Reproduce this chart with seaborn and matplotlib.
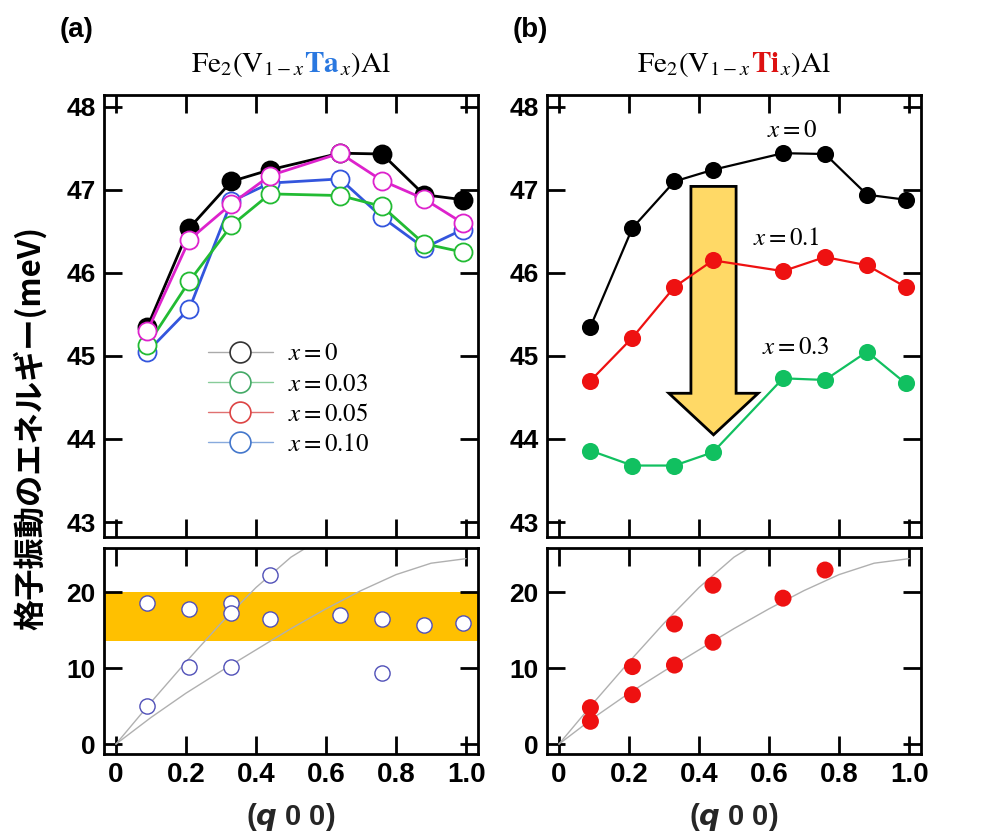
import matplotlib
matplotlib.use('Agg')
import matplotlib.pyplot as plt
from matplotlib.lines import Line2D
from matplotlib.patches import FancyArrow
from matplotlib.font_manager import FontProperties
import seaborn as sns

# wave vector positions (q 0 0)
q = [0.09, 0.21, 0.33, 0.44, 0.64, 0.76, 0.88, 0.99]

# (a) Fe2(V1-xTax)Al, upper panel (meV)
ta_x0 = [45.35, 46.54, 47.10, 47.24, 47.44, 47.43, 46.94, 46.88]
ta_x003 = [45.13, 45.90, 46.57, 46.95, 46.93, 46.80, 46.35, 46.25]
ta_x005 = [45.30, 46.40, 46.83, 47.17, 47.44, 47.11, 46.89, 46.60]
ta_x010 = [45.05, 45.57, 46.86, 47.08, 47.13, 46.67, 46.30, 46.52]

# (b) Fe2(V1-xTix)Al, upper panel (meV)
ti_x0 = [45.35, 46.54, 47.10, 47.24, 47.44, 47.43, 46.94, 46.88]
ti_x01 = [44.70, 45.22, 45.83, 46.15, 46.02, 46.19, 46.09, 45.83]
ti_x03 = [43.86, 43.68, 43.68, 43.84, 44.73, 44.71, 45.05, 44.67]

# lower panels (meV)
ta_low_q = [0.09, 0.21, 0.33, 0.33, 0.44, 0.64, 0.76, 0.88, 0.99, 0.44, 0.09, 0.21, 0.33, 0.76]
ta_low_e = [18.5, 17.8, 18.6, 17.3, 16.5, 16.95, 16.4, 15.7, 15.9, 22.25, 5.0, 10.1, 10.1, 9.4]
ti_low_q = [0.09, 0.09, 0.21, 0.21, 0.33, 0.33, 0.44, 0.44, 0.64, 0.76]
ti_low_e = [4.8, 3.0, 10.2, 6.5, 15.8, 10.4, 20.9, 13.4, 19.2, 22.9]

# gray guide curves
upper_q = [0.0, 0.1, 0.2, 0.3, 0.4, 0.5, 0.56]
upper_e = [0.0, 5.5, 10.8, 15.9, 20.6, 24.6, 26.3]
lower_q = [0.0, 0.1, 0.2, 0.3, 0.4, 0.5, 0.6, 0.7, 0.8, 0.9, 1.0]
lower_e = [0.0, 3.5, 6.7, 9.6, 12.4, 15.2, 17.8, 20.2, 22.3, 23.8, 24.4]

band_lo, band_hi = 13.6, 20.0

xticks = [0, 0.2, 0.4, 0.6, 0.8, 1.0]
xticklabels = ['0', '0.2', '0.4', '0.6', '0.8', '1.0']
yticks_top = [43, 44, 45, 46, 47, 48]
yticks_bottom = [0, 10, 20]

sns.set_style('ticks')
plt.rcParams['font.family'] = ['Liberation Sans', 'DejaVu Sans']
plt.rcParams['axes.edgecolor'] = 'black'
plt.rcParams['xtick.color'] = 'black'
plt.rcParams['ytick.color'] = 'black'
plt.rcParams['text.color'] = 'black'

fig = plt.figure(figsize=(10, 8.35), dpi=100)
ax_a = fig.add_axes([0.104, 0.3569, 0.374, 0.5293])
ax_b = fig.add_axes([0.547, 0.3569, 0.374, 0.5293])
ax_c = fig.add_axes([0.104, 0.0970, 0.374, 0.2467])
ax_d = fig.add_axes([0.547, 0.0970, 0.374, 0.2467])


def style_axis(ax, top):
    ax.set_xlim(-0.034, 1.034)
    ax.set_xticks(xticks)
    for s in ax.spines.values():
        s.set_linewidth(2)
        s.set_color('black')
        s.set_visible(True)
    ax.tick_params(direction='in', length=13, width=2, top=True, right=True,
                   labelsize=19, pad=6, colors='black')
    if top:
        ax.set_ylim(42.82, 48.14)
        ax.set_yticks(yticks_top)
        ax.set_yticklabels([str(v) for v in yticks_top], fontweight='bold')
        ax.set_xticklabels([])
    else:
        ax.set_ylim(-1.3, 25.8)
        ax.set_yticks(yticks_bottom)
        ax.set_yticklabels([str(v) for v in yticks_bottom], fontweight='bold')
        ax.set_xticklabels(xticklabels, fontweight='bold', fontsize=20)
        ax.set_xlabel(r'($\mathbfit{q}$ 0 0)', fontsize=21, fontweight='bold',
                      labelpad=9)
    ax.set_ylabel('')


def line(ax, y, color, filled=False, ms=11, lw=2):
    sns.lineplot(x=q, y=y, ax=ax, color=color, linewidth=lw, marker='o',
                 markersize=ms,
                 markerfacecolor=color if filled else 'white',
                 markeredgecolor=color, markeredgewidth=1.3)


# (a) upper
line(ax_a, ta_x0, 'black', filled=True, ms=13)
line(ax_a, ta_x010, '#3355dd', ms=13)
line(ax_a, ta_x003, '#22bb33', ms=13)
line(ax_a, ta_x005, '#dd22cc', ms=13)

handles = [
    Line2D([], [], color=lc, lw=1, marker='o', markersize=15,
           markerfacecolor='white', markeredgecolor=mc, markeredgewidth=1.2)
    for lc, mc in [('#aaaaaa', '#333333'), ('#88cc99', '#44aa66'),
                   ('#e07070', '#dd4444'), ('#88aadd', '#4477cc')]
]
labels = [r'$x = 0$', r'$x = 0.03$', r'$x = 0.05$', r'$x = 0.10$']
ax_a.legend(handles, labels, loc='upper left', bbox_to_anchor=(0.25, 0.465),
            frameon=False, handlelength=2.6, labelspacing=0.25,
            handletextpad=0.6, borderaxespad=0,
            prop=FontProperties(size=18, math_fontfamily='stix'))

# (b) upper
ax_b.add_patch(FancyArrow(0.4415, 47.04, 0, -2.99, width=0.129,
                          head_width=0.255, head_length=0.5,
                          length_includes_head=True, facecolor='#FFD966',
                          edgecolor='black', linewidth=2, zorder=1.5))
line(ax_b, ti_x0, 'black', filled=True, ms=11, lw=1.6)
line(ax_b, ti_x01, '#ee1111', filled=True, ms=11, lw=1.6)
line(ax_b, ti_x03, '#11c060', filled=True, ms=11, lw=1.6)
for tx, ty, s in [(0.666, 47.72, r'$x = 0$'), (0.65, 46.42, r'$x = 0.1$'),
                  (0.677, 45.11, r'$x = 0.3$')]:
    ax_b.text(tx, ty, s, ha='center', va='center', fontsize=18,
              math_fontfamily='stix')

# lower panels
for ax in (ax_c, ax_d):
    sns.lineplot(x=upper_q, y=upper_e, ax=ax, color='#b0b0b0', linewidth=1,
                 sort=False)
    sns.lineplot(x=lower_q, y=lower_e, ax=ax, color='#b0b0b0', linewidth=1,
                 sort=False)

ax_c.axhspan(band_lo, band_hi, color='#FFC000', zorder=0.5, linewidth=0)
sns.scatterplot(x=ta_low_q, y=ta_low_e, ax=ax_c, s=120, color='white',
                edgecolor='#5050b8', linewidth=1.0, zorder=3)
sns.scatterplot(x=ti_low_q, y=ti_low_e, ax=ax_d, s=150, color='#ee1111',
                edgecolor='none', linewidth=0, zorder=3)

for ax in (ax_a, ax_b):
    style_axis(ax, True)
for ax in (ax_c, ax_d):
    style_axis(ax, False)


def formula_title(ax, elem, color):
    base = 1.052
    kw = dict(ha='left', va='baseline', fontsize=21,
              math_fontfamily='stix', annotation_clip=False)
    t1 = ax.annotate(r'$\mathrm{Fe}_{2}(\mathrm{V}_{1-x}$', xy=(0.3, base),
                     xycoords='axes fraction', color='black', **kw)
    t2 = ax.annotate(r'$\mathbf{%s}$' % elem, xy=(1, base),
                     xycoords=(t1, 'axes fraction'), color=color, **kw)
    t3 = ax.annotate(r'${}_{x})\mathrm{Al}$', xy=(1, base),
                     xycoords=(t2, 'axes fraction'), color='black', **kw)
    return t1, t3


titles = [(ax_a,) + formula_title(ax_a, 'Ta', '#2a78e0'),
          (ax_b,) + formula_title(ax_b, 'Ti', '#dd1111')]
fig.canvas.draw()
for ax, t1, t3 in titles:
    b1 = t1.get_window_extent()
    b3 = t3.get_window_extent()
    axb = ax.get_window_extent()
    w = (b3.x1 - b1.x0) / axb.width
    t1.set_position((0.5 - w / 2, 1.052))

fig.text(0.06, 0.964, '(a)', fontsize=20, fontweight='bold', va='center')
fig.text(0.513, 0.964, '(b)', fontsize=20, fontweight='bold', va='center')
fig.text(0.03, 0.487, '格子振動のエネルギー(meV)', rotation=90, ha='center',
         va='center', fontsize=22.5, fontweight='bold',
         family=['Noto Sans CJK JP', 'DejaVu Sans'])

fig.savefig('out.png', dpi=100)
